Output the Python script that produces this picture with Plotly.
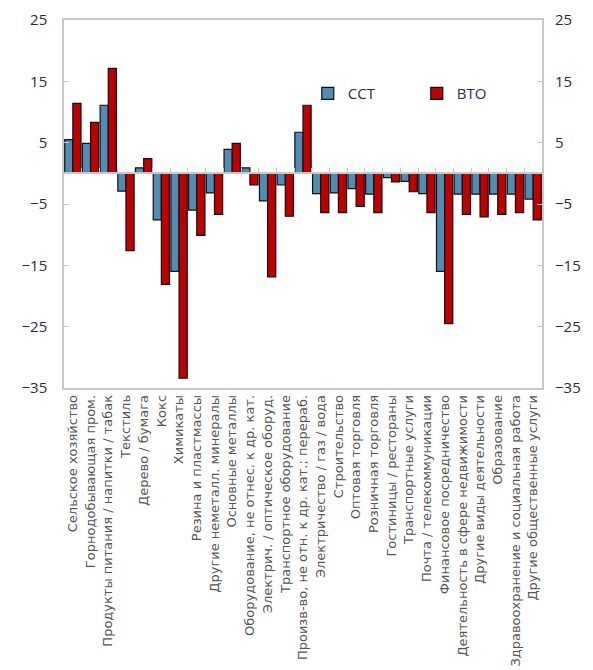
import plotly.graph_objects as go

categories = [
    "Сельское хозяйство", "Горнодобывающая пром.", "Продукты питания / напитки / табак",
    "Текстиль", "Дерево / бумага", "Кокс", "Химикаты", "Резина и пластмассы",
    "Другие неметалл. минералы", "Основные металлы", "Оборудование, не отнес. к др. кат.",
    "Электрич. / оптическое оборуд.", "Транспортное оборудование",
    "Произв-во, не отн. к др. кат.; перераб.", "Электричество / газ / вода",
    "Строительство", "Оптовая торговля", "Розничная торговля", "Гостиницы / рестораны",
    "Транспортные услуги", "Почта / телекоммуникации", "Финансовое посредничество",
    "Деятельность в сфере недвижимости", "Другие виды деятельности", "Образование",
    "Здравоохранение и социальная работа", "Другие общественные услуги",
]
cct = [5.5, 4.9, 11.1, -2.9, 0.9, -7.6, -16.0, -6.0, -3.2, 3.9, 0.9, -4.5, -1.9, 6.7,
       -3.3, -3.2, -2.5, -3.4, -0.7, -1.3, -3.3, -16.0, -3.4, -3.4, -3.4, -3.4, -4.2]
bto = [11.4, 8.3, 17.1, -12.6, 2.4, -18.1, -33.4, -10.1, -6.7, 4.9, -1.9, -16.9, -7.0, 11.1,
       -6.4, -6.4, -5.4, -6.4, -1.4, -3.0, -6.4, -24.5, -6.7, -7.1, -6.7, -6.4, -7.6]
y_min, y_max = -35, 25
tick_vals = [25, 15, 5, -5, -15, -25, -35]

fig = go.Figure()
fig.add_bar(x=categories, y=cct, name="CCT", marker=dict(color="#4f8db5", line=dict(color="#111", width=1.2)))
fig.add_bar(x=categories, y=bto, name="BTO", marker=dict(color="#c00000", line=dict(color="#111", width=1.2)))

n = len(categories)
tickfont = dict(family="Open Sans, Liberation Sans, sans-serif", size=15, color="#2b2b3b")
fig.update_layout(
    width=585, height=662,
    margin=dict(l=56, r=51, t=12, b=282),
    plot_bgcolor="white", paper_bgcolor="white",
    barmode="group", bargap=0.08, bargroupgap=0,
    showlegend=True,
    legend=dict(orientation="h", x=0.51, y=0.80, xanchor="left", yanchor="middle",
                font=dict(family="Open Sans, Liberation Sans, sans-serif", size=15, color="#2b2b4b"),
                bgcolor="rgba(0,0,0,0)", itemwidth=30, entrywidth=64, tracegroupgap=0),
    xaxis=dict(type="category", tickangle=-90, showline=True, mirror=True, linecolor="#c8c8c8",
               linewidth=1.5, ticks="", showgrid=False, zeroline=False, automargin=False,
               tickfont=dict(family="DejaVu Sans, sans-serif", size=13, color="#555")),
    xaxis2=dict(overlaying="x", anchor="free", position=(0 - y_min) / (y_max - y_min), side="top",
                range=[-0.5, n - 0.5], showline=True, linecolor="#c8c8c8", linewidth=1.5,
                ticks="outside", ticklen=5, tickcolor="#c8c8c8", automargin=False,
                tickmode="array", tickvals=[i + 0.5 for i in range(n - 1)],
                showticklabels=False, showgrid=False, zeroline=False),
    yaxis=dict(range=[y_min, y_max], tickmode="array", tickvals=tick_vals, ticks="inside",
               ticklen=5, tickcolor="#c8c8c8", showline=True, mirror=True, linecolor="#c8c8c8",
               linewidth=1.5, showgrid=False, zeroline=False, tickfont=tickfont,
               ticklabelstandoff=12, automargin=False),
    yaxis2=dict(overlaying="y", side="right", range=[y_min, y_max], tickmode="array",
                tickvals=tick_vals, ticks="inside", ticklen=5, tickcolor="#c8c8c8",
                showgrid=False, zeroline=False, tickfont=tickfont, ticklabelstandoff=12,
                automargin=False),
)
fig.add_scatter(x=[None], y=[None], xaxis="x2", yaxis="y2", showlegend=False, hoverinfo="skip")
fig.write_html("out.html")
